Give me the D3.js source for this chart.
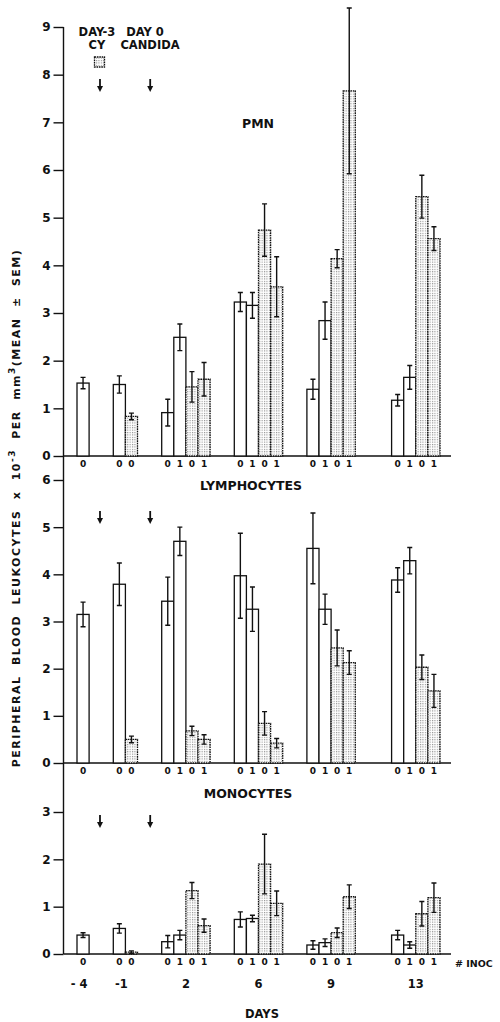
<!DOCTYPE html>
<meta charset="utf-8">
<head>
  <title>Peripheral blood leukocytes</title>
</head>

<style>
body { margin: 0; background: white; }
text {
  font-family: "DejaVu Sans", sans-serif;
  font-weight: bold;
  fill: #111;
}
.tick text { font-size: 12px; }
.tick line, .axis-line, .baseline { stroke: #111; stroke-width: 1.4; }
.bar { stroke: #111; stroke-width: 1.3; }
.bar.cy { stroke-dasharray: 1.6 0.8; }
.err { stroke: #111; stroke-width: 1.4; }
</style>

<body>
  <svg width="500" height="1022"></svg>

  <script src="https://cdnjs.cloudflare.com/ajax/libs/d3/7.8.5/d3.min.js"></script>
  <script>
// days after Candida inoculation
var days = ["- 4", "-1", "2", "6", "9", "13"];
// bar kinds per day: W = no CY (white), C = CY treated (stippled); digit = # inoc
var barKinds = [["W0"], ["W0", "C0"], ["W0", "W1", "C0", "C1"], ["W0", "W1", "C0", "C1"], ["W0", "W1", "C0", "C1"], ["W0", "W1", "C0", "C1"]];

var pmnMean = [[1.53], [1.50, 0.83], [0.91, 2.49, 1.45, 1.61], [3.23, 3.16, 4.74, 3.55], [1.40, 2.84, 4.14, 7.66], [1.17, 1.65, 5.44, 4.56]];
var pmnSem  = [[0.12], [0.18, 0.07], [0.28, 0.28, 0.32, 0.35], [0.20, 0.27, 0.55, 0.63], [0.21, 0.39, 0.19, 1.74], [0.12, 0.25, 0.45, 0.25]];

var lymMean = [[3.15], [3.79, 0.50], [3.43, 4.70, 0.68, 0.50], [3.97, 3.26, 0.84, 0.42], [4.55, 3.26, 2.44, 2.13], [3.88, 4.29, 2.03, 1.53]];
var lymSem  = [[0.26], [0.45, 0.07], [0.51, 0.30, 0.10, 0.10], [0.90, 0.47, 0.25, 0.10], [0.75, 0.32, 0.38, 0.25], [0.26, 0.28, 0.26, 0.35]];

var monMean = [[0.40], [0.54, 0.04], [0.26, 0.40, 1.34, 0.60], [0.73, 0.75, 1.90, 1.07], [0.19, 0.24, 0.45, 1.21], [0.40, 0.19, 0.85, 1.19]];
var monSem  = [[0.05], [0.10, 0.025], [0.13, 0.10, 0.17, 0.14], [0.16, 0.07, 0.63, 0.26], [0.09, 0.08, 0.10, 0.25], [0.10, 0.07, 0.26, 0.31]];

var pmnTicks = [0, 1, 2, 3, 4, 5, 6, 7, 8, 9];
var lymTicks = [0, 1, 2, 3, 4, 5, 6];
var monTicks = [0, 1, 2, 3];

// layout
var axisX = 63.5;
var baseEnd = 451;
var groupSlot = [0, 3, 7, 13, 19, 26];
var arrowSlots = [1.9, 6.05];
var slotX = d3.scaleLinear().domain([0, 30]).range([77, 440]);
var barW = slotX(1) - slotX(0);

var panels = [
  {title: "PMN", mean: pmnMean, sem: pmnSem, ticks: pmnTicks,
   y: d3.scaleLinear().domain([0, 9]).range([456, 27]), titleX: 258, titleY: 128, arrowY: 79},
  {title: "LYMPHOCYTES", mean: lymMean, sem: lymSem, ticks: lymTicks,
   y: d3.scaleLinear().domain([0, 6]).range([763, 480]), titleX: 251, titleY: 490, arrowY: 511},
  {title: "MONOCYTES", mean: monMean, sem: monSem, ticks: monTicks,
   y: d3.scaleLinear().domain([0, 3]).range([954, 812]), titleX: 248, titleY: 798, arrowY: 815}
];

var svg = d3.select('svg');

// stipple for CY bars
var pat = svg.append('defs').append('pattern')
  .attr('id', 'stipple')
  .attr('width', 2.4).attr('height', 2.4)
  .attr('patternUnits', 'userSpaceOnUse');
pat.append('rect').attr('width', 2.4).attr('height', 2.4).attr('fill', 'white');
pat.append('rect').attr('width', 1.1).attr('height', 1.1).attr('fill', '#8a8a8a');

// continuous y axis line
svg.append('line').attr('class', 'axis-line')
  .attr('x1', axisX).attr('x2', axisX)
  .attr('y1', panels[0].y(9)).attr('y2', panels[2].y(0));

panels.forEach(function(p, pi) {
  var g = svg.append('g');

  g.append('g')
    .attr('transform', 'translate(' + axisX + ',0)')
    .call(d3.axisLeft(p.y).tickValues(p.ticks).tickFormat(d3.format('d')).tickSize(10).tickPadding(3))
    .call(function(a) { a.select('.domain').remove(); });

  g.append('line').attr('class', 'baseline')
    .attr('x1', axisX).attr('x2', baseEnd)
    .attr('y1', p.y(0)).attr('y2', p.y(0));

  g.append('text')
    .attr('x', p.titleX).attr('y', p.titleY)
    .attr('text-anchor', 'middle')
    .style('font-size', '12.5px')
    .text(p.title);

  // arrows for day -3 (CY) and day 0 (Candida)
  arrowSlots.forEach(function(s) {
    var ax = slotX(s);
    g.append('line').attr('class', 'err')
      .style('stroke-width', 1.8)
      .attr('x1', ax).attr('x2', ax)
      .attr('y1', p.arrowY).attr('y2', p.arrowY + 8);
    g.append('path')
      .attr('d', 'M' + (ax - 3) + ',' + (p.arrowY + 7) + 'L' + (ax + 3) + ',' + (p.arrowY + 7) + 'L' + ax + ',' + (p.arrowY + 13) + 'Z')
      .attr('fill', '#111');
  });

  var bars = [];
  barKinds.forEach(function(kinds, di) {
    kinds.forEach(function(k, j) {
      bars.push({kind: k, slot: groupSlot[di] + j, mean: p.mean[di][j], sem: p.sem[di][j]});
    });
  });

  var b = g.selectAll('g.b')
    .data(bars)
    .enter()
    .append('g')
    .attr('class', 'b');

  b.append('rect')
    .attr('class', function(d) { return d.kind[0] === 'C' ? 'bar cy' : 'bar'; })
    .attr('x', function(d) { return slotX(d.slot); })
    .attr('y', function(d) { return p.y(d.mean); })
    .attr('width', barW)
    .attr('height', function(d) { return p.y(0) - p.y(d.mean); })
    .attr('fill', function(d) { return d.kind[0] === 'C' ? 'url(#stipple)' : 'white'; });

  b.append('path')
    .attr('class', 'err')
    .attr('fill', 'none')
    .attr('d', function(d) {
      var cx = slotX(d.slot) + barW / 2;
      var hi = p.y(d.mean + d.sem), lo = p.y(Math.max(0, d.mean - d.sem));
      return 'M' + cx + ',' + hi + 'V' + lo +
        'M' + (cx - 2.5) + ',' + hi + 'H' + (cx + 2.5) +
        'M' + (cx - 2.5) + ',' + lo + 'H' + (cx + 2.5);
    });

  b.append('text')
    .attr('x', function(d) { return slotX(d.slot) + barW / 2; })
    .attr('y', p.y(0) + 11)
    .attr('text-anchor', 'middle')
    .style('font-size', '9px')
    .text(function(d) { return d.kind[1]; });
});

// day labels
svg.selectAll('text.day')
  .data(days)
  .enter()
  .append('text')
  .attr('class', 'day')
  .attr('x', function(d, i) { return slotX(groupSlot[i]) + barKinds[i].length * barW / 2 - (i < 2 ? 4 : 0); })
  .attr('y', 988)
  .attr('text-anchor', 'middle')
  .style('font-size', '11.5px')
  .text(function(d) { return d; });

svg.append('text').attr('x', 262).attr('y', 1018).attr('text-anchor', 'middle')
  .style('font-size', '11.5px').text('DAYS');

svg.append('text').attr('x', 455).attr('y', 967)
  .style('font-size', '9.5px').text('# INOC');

// legend
var leg = [["DAY-3", 97, 36], ["CY", 97, 49], ["DAY 0", 145, 36], ["CANDIDA", 150, 49]];
svg.selectAll('text.leg')
  .data(leg)
  .enter()
  .append('text')
  .attr('class', 'leg')
  .attr('x', function(d) { return d[1]; })
  .attr('y', function(d) { return d[2]; })
  .attr('text-anchor', 'middle')
  .style('font-size', '11.5px')
  .text(function(d) { return d[0]; });

svg.append('rect')
  .attr('class', 'bar cy')
  .attr('x', 94.5).attr('y', 57).attr('width', 10).attr('height', 10)
  .attr('fill', 'url(#stipple)');

// y axis title
var yt = svg.append('text')
  .attr('transform', 'translate(20,508) rotate(-90)')
  .attr('text-anchor', 'middle')
  .style('font-size', '11px')
  .style('letter-spacing', '1.5px')
  .style('word-spacing', '5px');
yt.append('tspan').text('PERIPHERAL BLOOD LEUKOCYTES x 10');
yt.append('tspan').attr('dy', -5).style('font-size', '9px').text('-3');
yt.append('tspan').attr('dy', 5).text(' PER mm');
yt.append('tspan').attr('dy', -5).style('font-size', '9px').text('3');
yt.append('tspan').attr('dy', 5).text('(MEAN \u00b1 SEM)');
  </script>
</body>
</html>
